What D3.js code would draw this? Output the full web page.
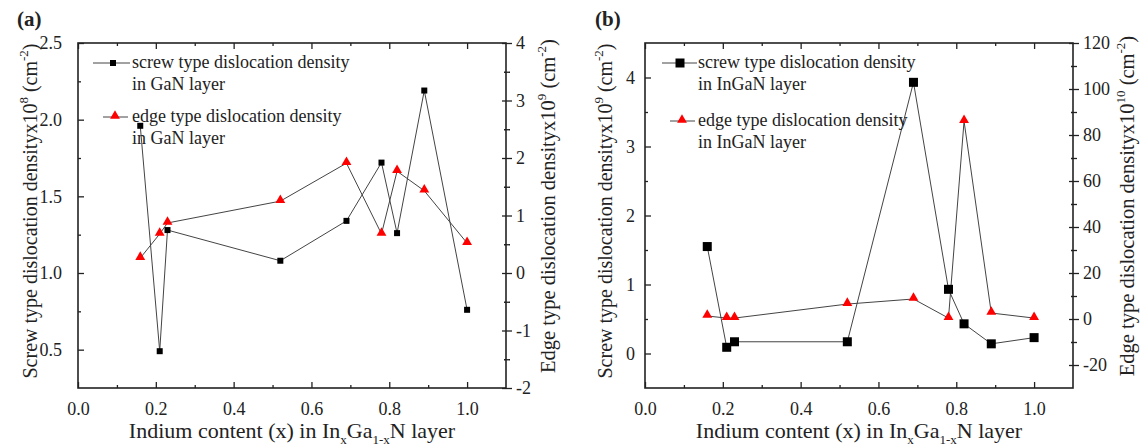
<!DOCTYPE html>
<html><head><meta charset="utf-8">
<script src="https://cdn.jsdelivr.net/npm/d3@7"></script>
<style>body{margin:0;background:#fff}svg{display:block}
svg text{font-family:"Liberation Serif","Times New Roman","DejaVu Serif",serif !important;fill:#222}</style>
</head><body>
<svg id="chart" width="1143" height="446"></svg>
<script>
// ---- Data ----
const indiumX = [0.16, 0.21, 0.23, 0.52, 0.69, 0.78, 0.82, 0.89, 1.0];
// Panel (a): GaN layer
const screwGaN = [1.96, 0.49, 1.28, 1.08, 1.34, 1.72, 1.26, 2.19, 0.76];   // x10^8 cm^-2
const edgeGaN  = [0.26, 0.68, 0.87, 1.25, 1.91, 0.68, 1.77, 1.43, 0.52];   // x10^9 cm^-2
// Panel (b): InGaN layer
const screwInGaN = [1.55, 0.09, 0.17, 0.17, 3.93, 0.93, 0.43, 0.14, 0.23]; // x10^9 cm^-2
const edgeInGaN  = [1.3, 0.4, 0.4, 6.5, 8.7, 0.4, 86, 2.6, 0.4];           // x10^10 cm^-2

const xTicks = [0.0, 0.2, 0.4, 0.6, 0.8, 1.0];
const aLeftTicks = [0.5, 1.0, 1.5, 2.0, 2.5];
const aRightTicks = [-2, -1, 0, 1, 2, 3, 4];
const bLeftTicks = [0, 1, 2, 3, 4];
const bRightTicks = [-20, 0, 20, 40, 60, 80, 100, 120];

const svg = d3.select("#chart");
const FS = 18;
const FONT = "'Liberation Serif', 'Times New Roman', 'DejaVu Serif', serif";

function drawPanel(o) {
  const g = svg.append("g");
  const x = d3.scaleLinear().domain([0, 1.1]).range([o.left, o.right]);
  const yL = d3.scaleLinear().domain(o.leftDomain).range([o.bottom, o.top]);
  const yR = d3.scaleLinear().domain(o.rightDomain).range([o.bottom, o.top]);
  const fmt1 = d3.format(".1f");
  const plain = d => String(d);

  g.append("g").attr("transform", `translate(0,${o.bottom})`)
    .call(d3.axisBottom(x).tickValues(xTicks).tickFormat(fmt1).tickSizeInner(-6).tickSizeOuter(0).tickPadding(14));
  g.append("g").attr("transform", `translate(0,${o.bottom})`)
    .call(d3.axisBottom(x).tickValues(d3.range(0.1, 1.1, 0.2)).tickFormat("").tickSizeInner(-3).tickSizeOuter(0));
  g.append("g").attr("transform", `translate(0,${o.top})`)
    .call(d3.axisTop(x).tickValues(xTicks).tickFormat("").tickSizeInner(-6).tickSizeOuter(0));
  g.append("g").attr("transform", `translate(0,${o.top})`)
    .call(d3.axisTop(x).tickValues(d3.range(0.1, 1.1, 0.2)).tickFormat("").tickSizeInner(-3).tickSizeOuter(0));
  g.append("g").attr("transform", `translate(${o.left},0)`)
    .call(d3.axisLeft(yL).tickValues(o.leftTicks).tickFormat(o.leftFmt).tickSizeInner(-6).tickSizeOuter(0).tickPadding(o.leftPad));
  g.append("g").attr("transform", `translate(${o.left},0)`)
    .call(d3.axisLeft(yL).tickValues(o.leftMinor).tickFormat("").tickSizeInner(-3).tickSizeOuter(0));
  g.append("g").attr("transform", `translate(${o.right},0)`)
    .call(d3.axisRight(yR).tickValues(o.rightTicks).tickFormat(plain).tickSizeInner(6).tickSizeOuter(0).tickPadding(4));
  g.append("g").attr("transform", `translate(${o.right},0)`)
    .call(d3.axisLeft(yR).tickValues(o.rightTicks).tickFormat("").tickSizeInner(4).tickSizeOuter(0));
  g.append("g").attr("transform", `translate(${o.right},0)`)
    .call(d3.axisRight(yR).tickValues(o.rightMinor).tickFormat("").tickSizeInner(4).tickSizeOuter(0));
  g.append("g").attr("transform", `translate(${o.right},0)`)
    .call(d3.axisLeft(yR).tickValues(o.rightMinor).tickFormat("").tickSizeInner(2).tickSizeOuter(0));

  g.selectAll(".domain").remove();
  g.selectAll("g").attr("font-family", FONT);
  g.selectAll(".tick line").attr("stroke", "#222").attr("stroke-width", 1.3);
  g.selectAll(".tick text").attr("font-size", FS).attr("font-family", FONT).attr("fill", "#222");

  g.append("rect").attr("x", o.left).attr("y", o.top).attr("width", o.right - o.left).attr("height", o.bottom - o.top)
    .attr("fill", "none").attr("stroke", "#222").attr("stroke-width", 1.6);

  const sData = indiumX.map((v, i) => [v, o.screw[i]]);
  const eData = indiumX.map((v, i) => [v, o.edge[i]]);
  const lineL = d3.line().x(d => x(d[0])).y(d => yL(d[1]));
  const lineR = d3.line().x(d => x(d[0])).y(d => yR(d[1]));
  g.append("path").attr("d", lineL(sData)).attr("fill", "none").attr("stroke", "#444").attr("stroke-width", 1);
  g.append("path").attr("d", lineR(eData)).attr("fill", "none").attr("stroke", "#444").attr("stroke-width", 1);
  const sq = o.sq, tri = d3.symbol().type(d3.symbolTriangle).size(o.triSize);
  g.selectAll(".sq").data(sData).join("rect").attr("x", d => x(d[0]) - sq / 2).attr("y", d => yL(d[1]) - sq / 2)
    .attr("width", sq).attr("height", sq).attr("fill", "#000");
  g.selectAll(".tri").data(eData).join("path").attr("d", tri)
    .attr("transform", d => `translate(${x(d[0])},${yR(d[1]) - 1})`).attr("fill", "#f00");

  const L = o.legend;
  const tx = (xx, yy, s) => g.append("text").attr("x", xx).attr("y", yy).attr("font-size", FS).attr("font-family", FONT).text(s);
  g.append("line").attr("x1", L.sx1).attr("x2", L.sx2).attr("y1", L.sy).attr("y2", L.sy).attr("stroke", "#444");
  g.append("rect").attr("x", L.sqx - sq / 2).attr("y", L.sy - sq / 2).attr("width", sq).attr("height", sq).attr("fill", "#000");
  tx(L.tx, L.sy + 5, o.legendTexts[0]);
  tx(L.tx, L.sy + 27, o.legendTexts[1]);
  g.append("line").attr("x1", L.ex1).attr("x2", L.ex2).attr("y1", L.ey).attr("y2", L.ey).attr("stroke", "#444");
  g.append("path").attr("d", tri).attr("transform", `translate(${L.trx},${L.ey - 1})`).attr("fill", "#f00");
  tx(L.tx, L.ey + 5, o.legendTexts[2]);
  tx(L.tx, L.ey + 27, o.legendTexts[3]);

  const xt = g.append("text").attr("x", (o.left + o.right) / 2).attr("y", 438).attr("text-anchor", "middle")
    .attr("font-size", 22).attr("font-family", FONT);
  xt.append("tspan").text("Indium content (x) in In");
  xt.append("tspan").attr("font-size", 13).attr("dy", 6).text("x");
  xt.append("tspan").attr("dy", -6).text("Ga");
  xt.append("tspan").attr("font-size", 13).attr("dy", 6).text("1-x");
  xt.append("tspan").attr("dy", -6).text("N layer");

  function ytitle(cx, cy, fs, base, exp) {
    const t = g.append("text").attr("transform", `translate(${cx},${cy}) rotate(-90)`)
      .attr("text-anchor", "middle").attr("font-size", fs).attr("font-family", FONT);
    t.append("tspan").text(base + "x10");
    t.append("tspan").attr("font-size", 13).attr("dy", -9).text(exp);
    t.append("tspan").attr("dy", 9).text(" (cm");
    t.append("tspan").attr("font-size", 13).attr("dy", -9).text("-2");
    t.append("tspan").attr("dy", 9).text(")");
  }
  ytitle(o.leftTitleX, 211, 20, "Screw type dislocation density", o.leftExp);
  ytitle(o.rightTitleX, 206, 20.5, "Edge type dislocation density", o.rightExp);

  g.append("text").attr("x", o.labelX).attr("y", 26).attr("font-size", 21).attr("font-weight", "bold")
    .attr("font-family", FONT).attr("fill", "#111").text(o.label);
}

drawPanel({
  left: 78, right: 506, top: 43, bottom: 388,
  leftDomain: [0.25, 2.5], rightDomain: [-2, 4],
  leftTicks: aLeftTicks, leftMinor: [0.75, 1.25, 1.75, 2.25], leftFmt: d3.format(".1f"), leftPad: 16,
  rightTicks: aRightTicks, rightMinor: [-1.5, -0.5, 0.5, 1.5, 2.5, 3.5],
  screw: screwGaN, edge: edgeGaN, sq: 6, triSize: 42,
  legend: {sx1: 93, sx2: 130, sqx: 113, sy: 63, tx: 132, ex1: 103, ex2: 128, trx: 115, ey: 117},
  legendTexts: ["screw type dislocation density", "in GaN layer", "edge type dislocation density", "in GaN layer"],
  leftTitleX: 37, rightTitleX: 555, leftExp: "8", rightExp: "9", label: "(a)", labelX: 17
});
drawPanel({
  left: 645, right: 1073, top: 43, bottom: 388,
  leftDomain: [-0.5, 4.5], rightDomain: [-30, 120],
  leftTicks: bLeftTicks, leftMinor: [0.5, 1.5, 2.5, 3.5], leftFmt: d3.format("d"), leftPad: 10,
  rightTicks: bRightTicks, rightMinor: [-10, 10, 30, 50, 70, 90, 110],
  screw: screwInGaN, edge: edgeInGaN, sq: 9, triSize: 42,
  legend: {sx1: 662, sx2: 697, sqx: 680, sy: 63, tx: 698, ex1: 670, ex2: 695, trx: 682, ey: 121},
  legendTexts: ["screw type dislocation density", "in InGaN layer", "edge type dislocation density", "in InGaN layer"],
  leftTitleX: 612, rightTitleX: 1134, leftExp: "9", rightExp: "10", label: "(b)", labelX: 595
});
</script>
</body></html>
